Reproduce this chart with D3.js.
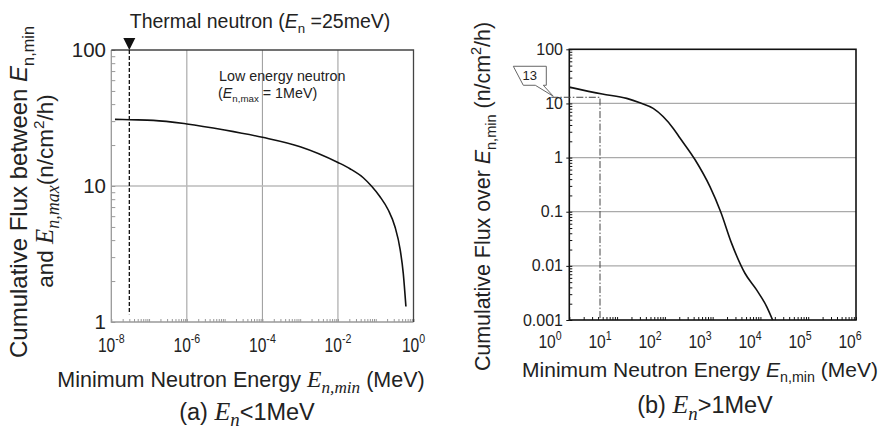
<!DOCTYPE html>
<html>
<head>
    <meta charset="utf-8" />
    <title>Cumulative neutron flux</title>
    <script src="https://cdn.jsdelivr.net/npm/d3@7"></script>
    <style>
        body { margin: 0; background: #fff; }
        svg { font-family: "Liberation Sans", Arial, sans-serif; fill: #222; }
    </style>
</head>
<body>
<script>

    // (a) En < 1 MeV : flux between En,min and 1 MeV
    var lowEnergy = [1.25e-8, 3.1e-8, 1.3e-7, 1e-6, 1e-5, 1e-4, 1e-3, 1e-2, 0.0208, 0.0468, 0.078, 0.13, 0.215, 0.323, 0.445, 0.536, 0.63];
    var lowFlux   = [30.9, 30.7, 30.4, 28.6, 25.8, 22.8, 19.45, 14.9, 13.4, 11.5, 9.95, 8.34, 6.66, 5.02, 3.39, 2.28, 1.30];

    // (b) En > 1 MeV : flux above En,min
    var highEnergy = [1, 4.9, 15.9, 30, 57, 150, 207, 426, 878, 1470, 2495, 4740, 8320, 13500, 18000];
    var highFlux   = [20, 14.9, 12.4, 10.3, 8.1, 3.46, 2.3, 0.92, 0.29, 0.1, 0.026, 0.0073, 0.0036, 0.00177, 0.001];

    var lowXTicks = [1e-8, 1e-6, 1e-4, 1e-2, 1];
    var lowXExp = ["-8", "-6", "-4", "-2", "0"];
    var lowYTicks = [1, 10, 100];
    var highXTicks = [1, 10, 100, 1e3, 1e4, 1e5, 1e6];
    var highXExp = ["0", "1", "2", "3", "4", "5", "6"];
    var highYTicks = [0.001, 0.01, 0.1, 1, 10, 100];
    var highYLabels = ["0.001", "0.01", "0.1", "1", "10", "100"];

    var thermalEnergy = 3e-8;   // dashed marker (25 meV)
    var guideEnergy = 10;       // dash-dot guide, 10 MeV
    var guideFlux = 13;

    var svg = d3.select("body").append("svg")
        .attr("width", 881)
        .attr("height", 429);

    var serif = "'Liberation Serif', 'DejaVu Serif', serif";

    // text with italic / sub / sup pieces
    function rich(text, parts, base) {
        var shift = 0;
        parts.forEach(function (p) {
            var k = p[1] || "";
            var target = 0, scale = 1;
            if (k.indexOf("sub") >= 0) { target = 0.28; scale = 0.68; }
            if (k.indexOf("sup") >= 0) { target = -0.42; scale = 0.68; }
            if (k === "m") scale = 1.1;
            if (k === "msub") scale = 0.8;
            var t = text.append("tspan").text(p[0])
                .attr("dy", ((target - shift) * base) + "px")
                .style("font-size", (base * scale) + "px");
            if (k.indexOf("i") === 0 || k.indexOf("m") === 0) t.style("font-style", "italic");
            if (k.indexOf("m") === 0) t.style("font-family", serif);
            shift = target;
        });
        return text;
    }

    function minorTicks(lo, hi) {
        var out = [];
        for (var e = lo; e < hi; e++)
            for (var m = 1; m < 10; m++) out.push(m * Math.pow(10, e));
        out.push(Math.pow(10, hi));
        return out;
    }

    // ---------------- left chart ----------------
    var xL = d3.scaleLog().domain([1e-8, 1]).range([111.3, 413.5]);
    var yL = d3.scaleLog().domain([1, 100]).range([322, 50]);

    var gl = svg.append("g");

    gl.selectAll(".vgrid").data([1e-6, 1e-4, 1e-2]).enter().append("line")
        .attr("x1", function (d) { return xL(d); }).attr("x2", function (d) { return xL(d); })
        .attr("y1", yL(100)).attr("y2", yL(1))
        .attr("stroke", "#999").attr("stroke-width", 1);
    gl.selectAll(".hgrid").data([10]).enter().append("line")
        .attr("x1", xL(1e-8)).attr("x2", xL(1))
        .attr("y1", function (d) { return yL(d); }).attr("y2", function (d) { return yL(d); })
        .attr("stroke", "#bbb").attr("stroke-width", 1.3);

    gl.append("g")
        .attr("transform", "translate(0," + yL(1) + ")")
        .call(d3.axisBottom(xL).tickValues(minorTicks(-8, 0)).tickSize(-3).tickFormat(""))
        .call(function (g) { g.select(".domain").remove(); g.selectAll("line").attr("stroke", "#999"); });
    gl.append("g")
        .attr("transform", "translate(" + xL(1e-8) + ",0)")
        .call(d3.axisRight(yL).tickValues(minorTicks(0, 2)).tickSize(4).tickFormat(""))
        .call(function (g) { g.select(".domain").remove(); g.selectAll("line").attr("stroke", "#999"); });

    // frame
    gl.append("path")
        .attr("d", "M" + xL(1e-8) + "," + yL(100) + "V" + yL(1) + "H" + xL(1))
        .attr("fill", "none").attr("stroke", "#999").attr("stroke-width", 1.3);
    gl.append("path")
        .attr("d", "M" + xL(1e-8) + "," + yL(100) + "H" + xL(1) + "V" + yL(1))
        .attr("fill", "none").attr("stroke", "#444").attr("stroke-width", 1.3);

    // thermal marker
    gl.append("line")
        .attr("x1", xL(thermalEnergy)).attr("x2", xL(thermalEnergy))
        .attr("y1", yL(100)).attr("y2", yL(1.14))
        .attr("stroke", "#111").attr("stroke-width", 1.3).attr("stroke-dasharray", "4,2");
    gl.append("path")
        .attr("d", "M" + (xL(thermalEnergy) - 6) + "," + (yL(100) - 12) + "h12l-6,12z")
        .attr("fill", "#111");

    var lineL = d3.line()
        .x(function (d, i) { return xL(lowEnergy[i]); })
        .y(function (d) { return yL(d); })
        .curve(d3.curveMonotoneX);
    gl.append("path").datum(lowFlux)
        .attr("d", lineL).attr("fill", "none").attr("stroke", "#111").attr("stroke-width", 1.6);

    // tick labels
    gl.selectAll(".ylab").data(lowYTicks).enter().append("text")
        .attr("x", 106).attr("y", function (d) { return yL(d); }).attr("dy", "0.35em")
        .attr("text-anchor", "end").style("font-size", "20.5px").text(function (d) { return d; });
    lowXTicks.forEach(function (d, i) {
        var t = gl.append("text").attr("text-anchor", "middle")
            .attr("transform", "translate(" + xL(d) + ",351.5) scale(0.78,1)")
            .style("font-size", "20px");
        rich(t, [["10"], [lowXExp[i], "sup"]], 20);
    });

    rich(gl.append("text").attr("x", 260).attr("y", 28).attr("text-anchor", "middle").style("font-size", "19.5px"),
        [["Thermal neutron ("], ["E", "i"], ["n", "sub"], [" =25meV)"]], 19.5);
    rich(gl.append("text").attr("x", 219).attr("y", 81).style("font-size", "14.3px"),
        [["Low energy neutron"]], 14.3);
    rich(gl.append("text").attr("x", 218).attr("y", 97.5).style("font-size", "14.3px"),
        [["("], ["E", "i"], ["n,max", "sub"], [" = 1MeV)"]], 14.3);

    rich(gl.append("text").attr("x", 241).attr("y", 386.5).attr("text-anchor", "middle").style("font-size", "21.5px"),
        [["Minimum Neutron Energy "], ["E", "m"], ["n,min", "msub"], ["  (MeV)"]], 21.5);
    rich(gl.append("text").attr("x", 247).attr("y", 419.5).attr("text-anchor", "middle").style("font-size", "23.5px"),
        [["(a) "], ["E", "m"], ["n", "msub"], ["<1MeV"]], 23.5);

    rich(gl.append("text").attr("text-anchor", "middle")
            .attr("transform", "translate(27,192) rotate(-90)").style("font-size", "24px"),
        [["Cumulative Flux between "], ["E", "i"], ["n,min", "sub"]], 24);
    rich(gl.append("text").attr("text-anchor", "middle")
            .attr("transform", "translate(53,191) rotate(-90)").style("font-size", "22.5px"),
        [["and "], ["E", "m"], ["n,max", "msub"], ["(n/cm"], ["2", "sup"], ["/h)"]], 22.5);

    // ---------------- right chart ----------------
    var xR = d3.scaleLog().domain([1, 1e6]).range([569.3, 856]);
    var xRLabel = d3.scaleLog().domain([1, 1e6]).range([550, 850]);
    var yR = d3.scaleLog().domain([0.001, 100]).range([320, 49.3]);

    var gr = svg.append("g");

    gr.selectAll(".hgrid").data([10, 1, 0.1, 0.01]).enter().append("line")
        .attr("x1", xR(1)).attr("x2", xR(1e6))
        .attr("y1", function (d) { return yR(d); }).attr("y2", function (d) { return yR(d); })
        .attr("stroke", "#aaa").attr("stroke-width", 1.3);

    gr.append("g")
        .attr("transform", "translate(0," + yR(0.001) + ")")
        .call(d3.axisBottom(xR).tickValues(minorTicks(0, 6)).tickSize(-3).tickFormat(""))
        .call(function (g) { g.select(".domain").remove(); g.selectAll("line").attr("stroke", "#111"); });
    gr.append("g")
        .attr("transform", "translate(" + xR(1) + ",0)")
        .call(d3.axisRight(yR).tickValues(minorTicks(-3, 2)).tickSize(3).tickFormat(""))
        .call(function (g) { g.select(".domain").remove(); g.selectAll("line").attr("stroke", "#111"); });
    gr.append("g")
        .attr("transform", "translate(" + xR(1) + ",0)")
        .call(d3.axisLeft(yR).tickValues(highYTicks).tickSize(3).tickFormat(""))
        .call(function (g) { g.select(".domain").remove(); g.selectAll("line").attr("stroke", "#111"); });

    gr.append("rect")
        .attr("x", xR(1)).attr("y", yR(100))
        .attr("width", xR(1e6) - xR(1)).attr("height", yR(0.001) - yR(100))
        .attr("fill", "none").attr("stroke", "#111").attr("stroke-width", 1.6);

    // 13 n/cm2/h guide above 10 MeV
    var tipX = xR(1) - 16, tipY = yR(guideFlux);
    gr.append("path")
        .attr("d", "M" + (tipX - 2) + "," + tipY + "H" + xRLabel(guideEnergy) + "V" + yR(0.001))
        .attr("fill", "none").attr("stroke", "#444").attr("stroke-width", 1)
        .attr("stroke-dasharray", "7,2,1.5,2");
    gr.append("path")
        .attr("d", "M" + (tipX - 40) + "," + (tipY - 31) + "h33v19h-3l10,11l-18,-11h-12z")
        .attr("fill", "#fff").attr("stroke", "#666").attr("stroke-width", 1);
    gr.append("text")
        .attr("x", tipX - 23.5).attr("y", tipY - 21.5).attr("dy", "0.35em")
        .attr("text-anchor", "middle").style("font-size", "13px").text(guideFlux);

    var lineR = d3.line()
        .x(function (d, i) { return xR(highEnergy[i]); })
        .y(function (d) { return yR(d); })
        .curve(d3.curveMonotoneX);
    gr.append("path").datum(highFlux)
        .attr("d", lineR).attr("fill", "none").attr("stroke", "#111").attr("stroke-width", 1.6);

    gr.selectAll(".ylab").data(highYTicks).enter().append("text")
        .attr("x", 563).attr("y", function (d) { return yR(d); }).attr("dy", "0.35em")
        .attr("text-anchor", "end").style("font-size", "16px")
        .text(function (d, i) { return highYLabels[i]; });
    highXTicks.forEach(function (d, i) {
        var t = gr.append("text").attr("text-anchor", "middle")
            .attr("transform", "translate(" + xRLabel(d) + ",348) scale(0.82,1)")
            .style("font-size", "19px");
        rich(t, [["10"], [highXExp[i], "sup"]], 19);
    });

    rich(gr.append("text").attr("x", 700).attr("y", 376.5).attr("text-anchor", "middle").style("font-size", "21px"),
        [["Minimum Neutron Energy "], ["E", "i"], ["n,min", "sub"], [" (MeV)"]], 21);
    rich(gr.append("text").attr("x", 705).attr("y", 413).attr("text-anchor", "middle").style("font-size", "23.5px"),
        [["(b) "], ["E", "m"], ["n", "msub"], [">1MeV"]], 23.5);
    rich(gr.append("text").attr("text-anchor", "middle")
            .attr("transform", "translate(490,196.5) rotate(-90)").style("font-size", "21.4px"),
        [["Cumulative Flux over "], ["E", "i"], ["n,min", "sub"], [" (n/cm"], ["2", "sup"], ["/h)"]], 21.4);

</script>
</body>
</html>
